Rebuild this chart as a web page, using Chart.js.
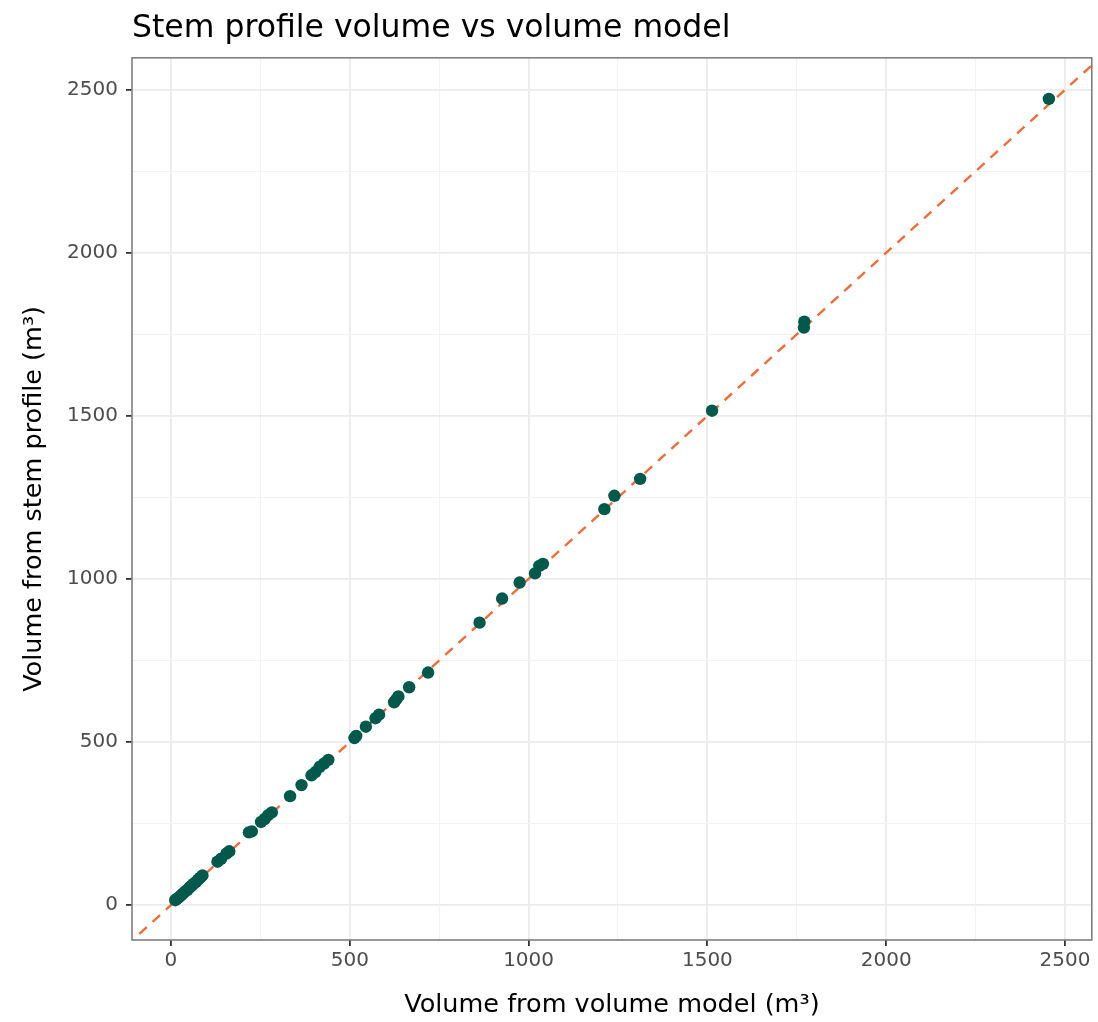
<!DOCTYPE html>
<html>
<head>
<meta charset="utf-8">
<script src="https://cdn.jsdelivr.net/npm/chart.js@4"></script>
<style>
  html, body { margin: 0; padding: 0; background: #fff; }
  #wrap { width: 1098px; height: 1022px; }
</style>
</head>
<body>
<div id="wrap"><canvas id="grafico"></canvas></div>
<script>
// datos (volumen modelo vs perfil de fuste)
const volModelo = [12, 16, 22, 28, 34, 40, 46, 52, 58, 64, 70, 76, 82, 88,
  130, 140, 155, 163, 218, 226, 252, 262, 272, 282, 333, 365,
  393, 404, 416, 428, 440, 513, 518, 545, 572, 582, 624, 630, 636, 666, 719,
  863, 926, 975, 1018, 1030, 1040, 1212, 1240, 1312, 1513, 1770, 1771, 2455]
const volPerfil = [15, 19, 24, 30, 36, 42, 47, 54, 60, 66, 71, 78, 84, 91,
  133, 142, 158, 165, 223, 226, 255, 264, 276, 284, 334, 368,
  398, 408, 424, 434, 445, 512, 519, 547, 573, 584, 622, 631, 640, 668, 713,
  866, 940, 989, 1017, 1040, 1046, 1214, 1255, 1307, 1516, 1771, 1789, 2472]

// linea 1:1
const lineaRef = [-200, 3000]

// ticks (mayores con etiqueta, menores solo grilla)
const ticksMayores = [0, 500, 1000, 1500, 2000, 2500]
const ticksMenores = [250, 750, 1250, 1750, 2250]
const limX = [-109, 2575]
const limY = [-107, 2598]

const puntos = volModelo.map((v, i) => ({ x: v, y: volPerfil[i] }))
const ptsLinea = lineaRef.map(v => ({ x: v, y: v }))
const todosTicks = ticksMayores.concat(ticksMenores).sort((a, b) => a - b)

const esMayor = (v) => ticksMayores.includes(v)

const ejeComun = (titulo) => ({
  type: 'linear',
  afterBuildTicks: (scale) => {
    scale.ticks = todosTicks.map(v => ({ value: v }))
  },
  grid: {
    color: (c) => esMayor(c.tick.value) ? '#ebebeb' : '#f3f3f3',
    lineWidth: (c) => esMayor(c.tick.value) ? 1.8 : 1.1,
    tickColor: (c) => esMayor(c.tick.value) ? '#333333' : 'rgba(0,0,0,0)',
    tickLength: 6,
    drawTicks: true
  },
  border: { display: false },
  ticks: {
    autoSkip: false,
    maxRotation: 0,
    color: '#4d4d4d',
    font: { family: 'DejaVu Sans', size: 20 },
    callback: (v) => esMayor(v) ? String(v) : ''
  },
  title: {
    display: true,
    text: titulo,
    color: '#000',
    font: { family: 'DejaVu Sans', size: 25.5 }
  }
})

// marco del panel (theme_bw)
const marco = {
  id: 'marco',
  afterDatasetsDraw(chart) {
    const a = chart.chartArea
    const ctx = chart.ctx
    ctx.save()
    ctx.strokeStyle = '#7f7f7f'
    ctx.lineWidth = 1.6
    ctx.strokeRect(a.left, a.top, a.right - a.left, a.bottom - a.top)
    ctx.restore()
  }
}

const ejeX = ejeComun('Volume from volume model (m³)')
ejeX.min = limX[0]
ejeX.max = limX[1]
ejeX.ticks.padding = 3
ejeX.title.padding = { top: 0, bottom: 1 }
ejeX.afterFit = (s) => { s.height = 82 }

const ejeY = ejeComun('Volume from stem profile (m³)')
ejeY.min = limY[0]
ejeY.max = limY[1]
ejeY.ticks.padding = 8
ejeY.title.padding = { top: 19, bottom: 0 }
ejeY.afterFit = (s) => { s.width = 132 }

const ctx = document.getElementById('grafico').getContext('2d')
const miGrafico = new Chart(ctx, {
  type: 'scatter',
  data: {
    datasets: [{
      label: 'perfil',
      data: puntos,
      backgroundColor: '#01594c',
      borderWidth: 0,
      pointRadius: 6.2,
      order: 1
    }, {
      type: 'line',
      label: '1:1',
      data: ptsLinea,
      borderColor: '#f26c3a',
      borderWidth: 2.4,
      borderDash: [10, 8],
      pointRadius: 0,
      fill: false,
      order: 2
    }]
  },
  options: {
    responsive: true,
    maintainAspectRatio: false,
    animation: false,
    layout: { padding: { left: 0, right: 5, top: 0, bottom: 0 } },
    scales: { x: ejeX, y: ejeY },
    plugins: {
      legend: { display: false },
      tooltip: { enabled: false },
      title: {
        display: true,
        text: 'Stem profile volume vs volume model',
        align: 'start',
        fullSize: false,
        color: '#000',
        font: { family: 'DejaVu Sans', size: 31.5, weight: 'normal' },
        padding: { top: 10, bottom: 10 }
      }
    }
  },
  plugins: [marco]
})
</script>
</body>
</html>
